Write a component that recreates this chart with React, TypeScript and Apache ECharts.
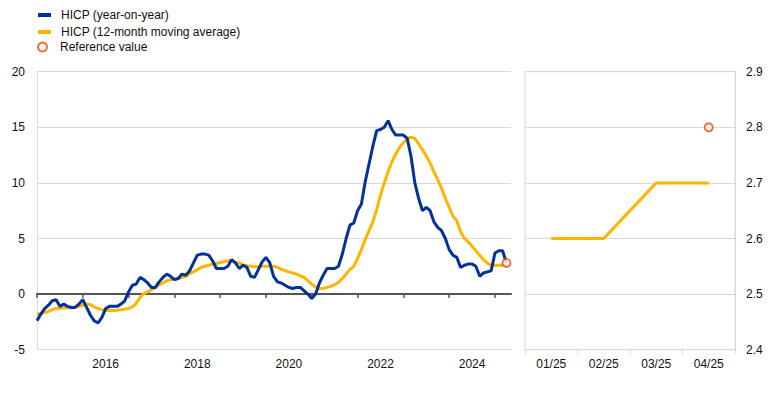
import React, { useEffect, useRef } from "react";
import * as echarts from "echarts";

// Monthly data Jan 2015 .. Apr 2025 (index 0 = Jan 2015)
const hicpYoY: number[] = [
  -2.4, -1.8, -1.3, -1.0, -0.6, -0.5, -1.1, -0.9, -1.1, -1.2, -1.2, -0.9,
  -0.5, -1.2, -1.9, -2.4, -2.6, -2.1, -1.3, -1.1, -1.1, -1.1, -0.9, -0.6,
  0.2, 0.8, 0.9, 1.5, 1.3, 1.0, 0.6, 0.6, 1.1, 1.5, 1.8, 1.6,
  1.3, 1.4, 1.8, 1.7, 2.1, 2.8, 3.5, 3.6, 3.6, 3.5, 3.0, 2.3,
  2.3, 2.3, 2.5, 3.1, 2.8, 2.3, 2.6, 2.4, 1.6, 1.5, 2.2, 2.9,
  3.3, 2.8, 1.6, 1.1, 1.0, 0.8, 0.6, 0.5, 0.6, 0.6, 0.3, 0.0,
  -0.4, 0.0, 1.0, 1.7, 2.3, 2.3, 2.3, 2.5, 3.6, 5.0, 6.2, 6.4,
  7.5, 8.1, 10.1, 11.7, 13.3, 14.7, 14.8, 15.0, 15.6, 14.8, 14.3, 14.3,
  14.3, 14.0, 12.4, 10.0, 8.6, 7.5, 7.8, 7.5, 6.5, 6.0, 5.7, 5.0,
  4.0, 3.5, 3.3, 2.4, 2.6, 2.7, 2.7, 2.5, 1.6, 1.9, 2.0, 2.1,
  3.7, 3.9, 3.9, 2.8,
];

const hicpAvg: number[] = [
  -1.8, -1.75, -1.65, -1.55, -1.4, -1.3, -1.27, -1.25, -1.23, -1.22, -1.15, -1.1,
  -1.0, -0.9, -0.95, -1.15, -1.3, -1.4, -1.45, -1.47, -1.47, -1.45, -1.4, -1.35,
  -1.3, -1.15, -0.85, -0.3, 0.05, 0.2, 0.4, 0.6, 0.85, 1.0, 1.2, 1.3,
  1.35, 1.4, 1.5, 1.6, 1.85, 2.0, 2.2, 2.4, 2.5, 2.6, 2.7, 2.75,
  2.85, 2.9, 3.0, 2.95, 2.85, 2.8, 2.65, 2.55, 2.5, 2.45, 2.45, 2.5,
  2.5, 2.5, 2.5, 2.4, 2.25, 2.1, 2.0, 1.9, 1.8, 1.65, 1.5, 1.2,
  0.9, 0.65, 0.5, 0.5, 0.6, 0.7, 0.85, 1.05, 1.4, 1.8, 2.2, 2.5,
  3.2, 4.0, 4.9, 5.7, 6.5, 7.6, 8.9, 10.0, 11.0, 11.9, 12.6, 13.2,
  13.6, 14.0, 14.1, 14.0, 13.5, 13.0, 12.4, 11.8, 11.0, 10.3, 9.5, 8.6,
  7.8, 7.0, 6.6, 5.6, 5.0, 4.7, 4.3, 3.9, 3.5, 3.1, 2.8, 2.6,
  2.6, 2.6, 2.6, 2.7,
];

const referenceValue = 2.8;
const referenceIndex = 123; // Apr 2025

const recentCategories = ["01/25", "02/25", "03/25", "04/25"];
const recentAvg = [2.6, 2.6, 2.7, 2.7];

const yearTickMonths = [0, 12, 24, 36, 48, 60, 72, 84, 96, 108, 120];
const yearLabelMonths = [18, 42, 66, 90, 114];
const startYear = 2015;

const NAME_YOY = "HICP (year-on-year)";
const NAME_AVG = "HICP (12-month moving average)";
const NAME_REF = "Reference value";

const BLUE = "#003299";
const YELLOW = "#ffb400";
const ORANGE = "#f04a17";
const GRID = "#d9d9d9";
const AXIS_DARK = "#555555";
const FONT = "Liberation Sans, Arial, sans-serif";
const TEXT = "#111111";

export default function App() {
  const ref = useRef<HTMLDivElement>(null);

  useEffect(() => {
    if (!ref.current) return;
    const chart = echarts.init(ref.current, undefined, { renderer: "svg" });
    const gridTop = 71.7;
    const gridH = 278;
    const option: any = {
      animation: false,
      backgroundColor: "#ffffff",
      textStyle: { fontFamily: FONT },
      legend: [
        {
          orient: "vertical",
          left: 38,
          top: 9,
          padding: 0,
          itemWidth: 13,
          itemHeight: 4,
          itemGap: 5,
          icon: "rect",
          textStyle: { fontSize: 12, color: TEXT, fontFamily: FONT, padding: [0, 0, 0, 5] },
          data: [NAME_YOY, NAME_AVG],
        },
        {
          orient: "vertical",
          left: 37,
          top: 41,
          padding: 0,
          itemWidth: 13,
          itemHeight: 9,
          textStyle: { fontSize: 12, color: TEXT, fontFamily: FONT, padding: [0, 0, 0, 6] },
          data: [
            {
              name: NAME_REF,
              icon: "circle",
              itemStyle: { color: "#ffffff", borderColor: ORANGE, borderWidth: 2 },
            },
          ],
        },
      ],
      grid: [
        { left: 37, top: gridTop, width: 474, height: gridH },
        { left: 525, top: gridTop, width: 210, height: gridH, show: true, borderColor: GRID, borderWidth: 1 },
      ],
      xAxis: [
        {
          type: "value",
          gridIndex: 0,
          min: 0,
          max: 124.2,
          axisLine: { show: true, onZero: true, lineStyle: { color: AXIS_DARK, width: 2 } },
          axisTick: { show: true, length: 4, customValues: yearTickMonths, lineStyle: { color: AXIS_DARK, width: 1.5 } },
          axisLabel: { show: false },
          splitLine: { show: false },
        },
        {
          type: "value",
          gridIndex: 0,
          min: 0,
          max: 124.2,
          position: "bottom",
          axisLine: { show: false, onZero: false },
          axisTick: { show: false },
          axisLabel: {
            show: true,
            customValues: yearLabelMonths,
            formatter: (v: number) => String(startYear + Math.floor(v / 12)),
            fontSize: 12,
            color: TEXT,
            fontFamily: FONT,
            margin: 8,
          },
          splitLine: { show: false },
        },
        {
          type: "category",
          gridIndex: 1,
          data: recentCategories,
          boundaryGap: true,
          axisLine: { show: true, lineStyle: { color: GRID } },
          axisTick: { show: true, length: 4, lineStyle: { color: GRID } },
          axisLabel: { fontSize: 12, color: TEXT, fontFamily: FONT, margin: 8 },
          splitLine: { show: false },
        },
      ],
      yAxis: [
        {
          type: "value",
          gridIndex: 0,
          min: -5,
          max: 20,
          interval: 5,
          axisLine: { show: true, lineStyle: { color: GRID } },
          axisTick: { show: false },
          axisLabel: { fontSize: 12, color: TEXT, fontFamily: FONT, margin: 12 },
          splitLine: { show: true, lineStyle: { color: GRID, width: 1 } },
        },
        {
          type: "value",
          gridIndex: 1,
          position: "right",
          min: 2.4,
          max: 2.9,
          interval: 0.1,
          axisLine: { show: true, lineStyle: { color: GRID } },
          axisTick: { show: false },
          axisLabel: {
            fontSize: 12,
            color: TEXT,
            fontFamily: FONT,
            margin: 11,
            formatter: (v: number) => v.toFixed(1),
          },
          splitLine: { show: true, lineStyle: { color: GRID, width: 1 } },
        },
      ],
      series: [
        {
          name: NAME_AVG,
          type: "line",
          xAxisIndex: 0,
          yAxisIndex: 0,
          data: hicpAvg.map((v, i) => [i, v]),
          showSymbol: false,
          symbol: "none",
          lineStyle: { color: YELLOW, width: 3 },
          itemStyle: { color: YELLOW },
          z: 3,
        },
        {
          name: NAME_YOY,
          type: "line",
          xAxisIndex: 0,
          yAxisIndex: 0,
          data: hicpYoY.map((v, i) => [i, v]),
          showSymbol: false,
          symbol: "none",
          lineStyle: { color: BLUE, width: 3 },
          itemStyle: { color: BLUE },
          z: 4,
        },
        {
          name: NAME_REF,
          type: "scatter",
          xAxisIndex: 0,
          yAxisIndex: 0,
          data: [[referenceIndex, referenceValue]],
          symbol: "circle",
          symbolSize: 8,
          itemStyle: { color: "#ffffff", borderColor: ORANGE, borderWidth: 2 },
          z: 6,
        },
        {
          name: NAME_AVG,
          type: "line",
          xAxisIndex: 2,
          yAxisIndex: 1,
          data: recentAvg,
          showSymbol: false,
          symbol: "none",
          lineStyle: { color: YELLOW, width: 3 },
          itemStyle: { color: YELLOW },
          z: 3,
        },
        {
          name: NAME_REF,
          type: "scatter",
          xAxisIndex: 2,
          yAxisIndex: 1,
          data: [[recentCategories.length - 1, referenceValue]],
          symbol: "circle",
          symbolSize: 8,
          itemStyle: { color: "#ffffff", borderColor: ORANGE, borderWidth: 2 },
          z: 6,
        },
      ],
    };
    chart.setOption(option);
    return () => {
      chart.dispose();
    };
  }, []);

  return (
    <div
      ref={ref}
      style={{ position: "fixed", left: 0, top: 0, width: 771, height: 399, background: "#fff" }}
    />
  );
}
